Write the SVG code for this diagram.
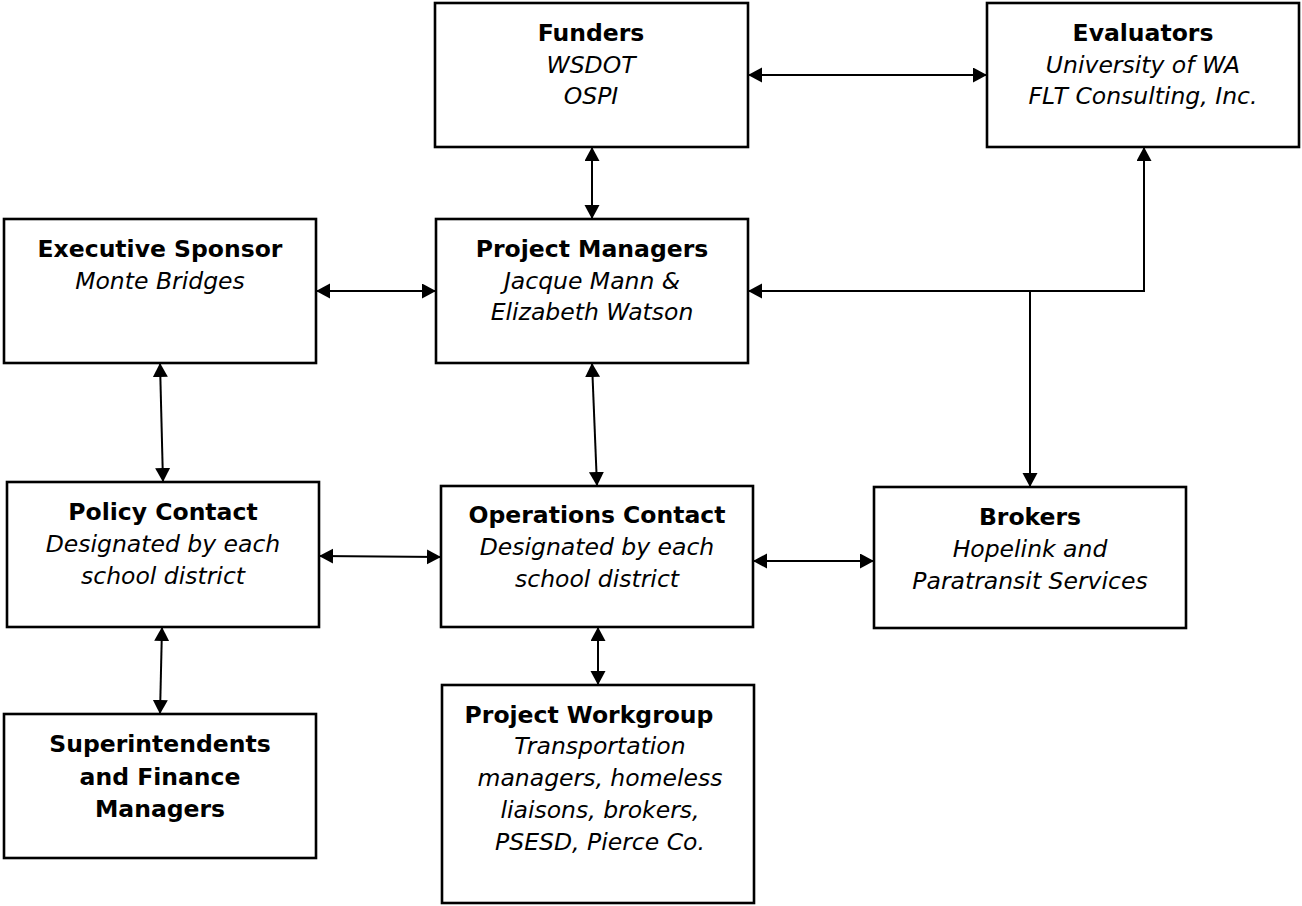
<svg xmlns="http://www.w3.org/2000/svg" width="1302" height="906" viewBox="0 0 1302 906">
<style>
.box{fill:#fff;stroke:#000;stroke-width:2.6}
.t{font-family:"DejaVu Sans","Liberation Sans",sans-serif;font-size:23.5px;fill:#000;text-anchor:middle}
.b{font-weight:bold}
.i{font-style:italic}
.c{fill:none;stroke:#000;stroke-width:2}
</style>
<defs>
<marker id="ah" markerUnits="userSpaceOnUse" markerWidth="16" markerHeight="16" refX="14" refY="7.5" orient="auto-start-reverse" viewBox="0 0 16 16">
<path d="M0,0 L14,7.5 L0,15 z" fill="#000"/>
</marker>
</defs>
<rect width="1302" height="906" fill="#fff"/>
<g id="connectors">
<line class="c" x1="748" y1="75" x2="987" y2="75" marker-start="url(#ah)" marker-end="url(#ah)"/>
<line class="c" x1="592" y1="147" x2="592" y2="219" marker-start="url(#ah)" marker-end="url(#ah)"/>
<line class="c" x1="316" y1="291" x2="436" y2="291" marker-start="url(#ah)" marker-end="url(#ah)"/>
<path class="c" d="M1144,147 L1144,291 L748,291" marker-start="url(#ah)" marker-end="url(#ah)"/>
<line class="c" x1="1030" y1="291" x2="1030" y2="487" marker-end="url(#ah)"/>
<line class="c" x1="160" y1="363" x2="163" y2="482" marker-start="url(#ah)" marker-end="url(#ah)"/>
<line class="c" x1="592" y1="363" x2="597" y2="486" marker-start="url(#ah)" marker-end="url(#ah)"/>
<line class="c" x1="319" y1="556" x2="441" y2="557" marker-start="url(#ah)" marker-end="url(#ah)"/>
<line class="c" x1="753" y1="561" x2="874" y2="561" marker-start="url(#ah)" marker-end="url(#ah)"/>
<line class="c" x1="162" y1="627" x2="160" y2="714" marker-start="url(#ah)" marker-end="url(#ah)"/>
<line class="c" x1="598" y1="627" x2="598" y2="685" marker-start="url(#ah)" marker-end="url(#ah)"/>
</g>
<g id="funders">
<rect class="box" x="435" y="3" width="313" height="144"/>
<text class="t b" x="591" y="41">Funders</text>
<text class="t i" x="591" y="73">WSDOT</text>
<text class="t i" x="591" y="104">OSPI</text>
</g>
<g id="evaluators">
<rect class="box" x="987" y="3" width="312" height="144"/>
<text class="t b" x="1143" y="41">Evaluators</text>
<text class="t i" x="1143" y="73">University of WA</text>
<text class="t i" x="1143" y="104">FLT Consulting, Inc.</text>
</g>
<g id="executive-sponsor">
<rect class="box" x="4" y="219" width="312" height="144"/>
<text class="t b" x="160" y="257">Executive Sponsor</text>
<text class="t i" x="160" y="289">Monte Bridges</text>
</g>
<g id="project-managers">
<rect class="box" x="436" y="219" width="312" height="144"/>
<text class="t b" x="592" y="257">Project Managers</text>
<text class="t i" x="592" y="289">Jacque Mann &amp;</text>
<text class="t i" x="592" y="320">Elizabeth Watson</text>
</g>
<g id="policy-contact">
<rect class="box" x="7" y="482" width="312" height="145"/>
<text class="t b" x="163" y="520">Policy Contact</text>
<text class="t i" x="163" y="552">Designated by each</text>
<text class="t i" x="163" y="584">school district</text>
</g>
<g id="operations-contact">
<rect class="box" x="441" y="486" width="312" height="141"/>
<text class="t b" x="597" y="523">Operations Contact</text>
<text class="t i" x="597" y="555">Designated by each</text>
<text class="t i" x="597" y="587">school district</text>
</g>
<g id="brokers">
<rect class="box" x="874" y="487" width="312" height="141"/>
<text class="t b" x="1030" y="525">Brokers</text>
<text class="t i" x="1030" y="557">Hopelink and</text>
<text class="t i" x="1030" y="589">Paratransit Services</text>
</g>
<g id="superintendents">
<rect class="box" x="4" y="714" width="312" height="144"/>
<text class="t b" x="160" y="752">Superintendents</text>
<text class="t b" x="160" y="785">and Finance</text>
<text class="t b" x="160" y="817">Managers</text>
</g>
<g id="project-workgroup">
<rect class="box" x="442" y="685" width="312" height="218"/>
<text class="t b" x="589" y="723">Project Workgroup</text>
<text class="t i" x="600" y="754">Transportation</text>
<text class="t i" x="600" y="786">managers, homeless</text>
<text class="t i" x="600" y="818">liaisons, brokers,</text>
<text class="t i" x="600" y="850">PSESD, Pierce Co.</text>
</g>
</svg>
